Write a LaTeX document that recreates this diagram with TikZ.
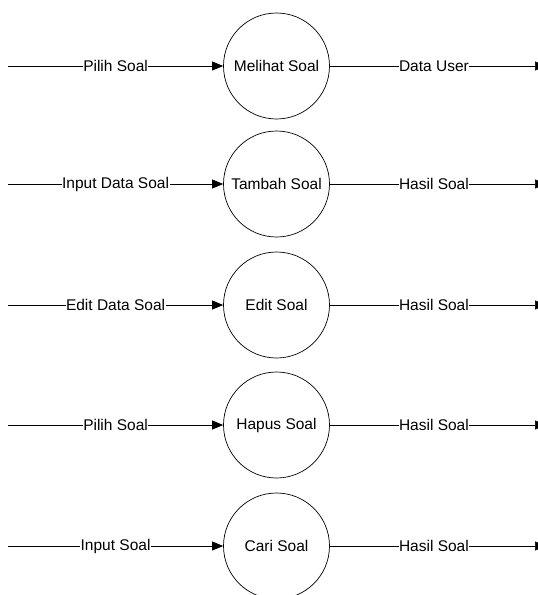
\documentclass[tikz,border=0pt]{standalone}
\usepackage{fontspec}
\setmainfont{Liberation Sans}
\usetikzlibrary{arrows.meta}
\tikzset{
    proses/.style={circle, draw, line width=0.7pt, minimum size=106pt, inner sep=0pt}, % lingkaran proses
    alir/.style={line width=0.7pt, -{Triangle[length=11pt, width=9pt]}}, % garis aliran data
    label alir/.style={fill=white, inner sep=0.5pt, midway} % teks di atas garis
}

\begin{document}
\begin{tikzpicture}[x=1pt, y=-1pt, font=\fontsize{15.5}{16}\selectfont]
    \useasboundingbox (0,0) rectangle (538,595);
    \foreach \i/\yy/\nama/\masuk/\keluar in {
        1/66/Melihat Soal/Pilih Soal/Data User,
        2/184/Tambah Soal/Input Data Soal/Hasil Soal,
        3/305/Edit Soal/Edit Data Soal/Hasil Soal,
        4/425/Hapus Soal/Pilih Soal/Hasil Soal,
        5/546/Cari Soal/Input Soal/Hasil Soal} {
        \node[proses] (p\i) at (276.5,\yy) {\nama};
        \coordinate (in\i) at (8,\yy);
        \coordinate (out\i) at (546,\yy);
        \draw[alir] (in\i) -- (p\i.west) node[label alir] {\masuk};
        \draw[alir] (p\i.east) -- (out\i) node[label alir, xshift=-4pt] {\keluar};
    }
\end{tikzpicture}
\end{document}
